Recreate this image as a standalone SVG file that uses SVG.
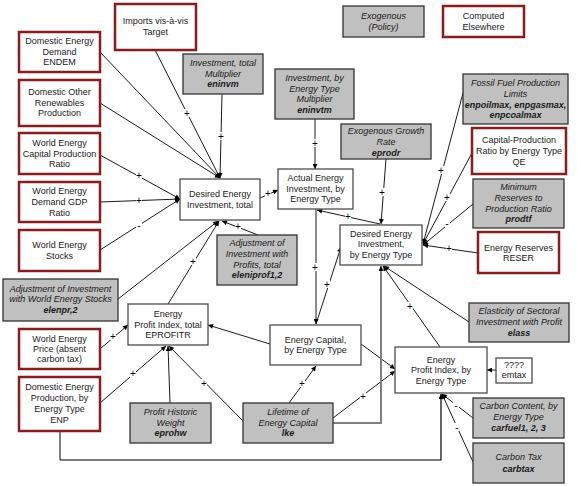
<svg xmlns="http://www.w3.org/2000/svg" width="577" height="486" viewBox="0 0 577 486">
<style>
text{font-family:"Liberation Sans",Arial,sans-serif;font-size:9px;fill:#1a1a1a;text-anchor:middle}
.red{fill:#fff;stroke:#8e1b1b;stroke-width:2.5}
.wht{fill:#fff;stroke:#4d4d4d;stroke-width:1.3}
.gry{fill:#c0c0c0;stroke:#333;stroke-width:1.3}
.i{font-style:italic}
.b{font-style:italic;font-weight:bold}
.ln{fill:none;stroke:#000;stroke-width:0.9}
.ar{marker-end:url(#ah)}
.gl{fill:none;stroke:#808080;stroke-width:2}
.lb{font-size:10px;fill:#000}
.lbg{fill:#fff}
#link-labels{opacity:0.99}
</style>
<defs>
<marker id="ah" viewBox="0 0 10 10" refX="10" refY="5" markerWidth="6" markerHeight="5" markerUnits="userSpaceOnUse" orient="auto"><path d="M0,0 L10,5 L0,10 z" fill="#000"/></marker>
</defs>
<rect width="577" height="486" fill="#fff"/>

<g id="connectors">
<line class="ln ar" x1="155" y1="50" x2="220" y2="178"/>
<line class="ln ar" x1="100" y1="52" x2="220" y2="178"/>
<line class="ln ar" x1="100" y1="103" x2="220" y2="178"/>
<line class="ln ar" x1="222" y1="94" x2="220" y2="178"/>
<line class="ln ar" x1="100" y1="155" x2="180" y2="199"/>
<line class="ln ar" x1="100" y1="202" x2="180" y2="199"/>
<line class="ln ar" x1="100" y1="250" x2="180" y2="199"/>
<line class="ln ar" x1="118" y1="299" x2="218" y2="221"/>
<line class="ln ar" x1="168" y1="304" x2="219" y2="221"/>
<line class="ln ar" x1="258" y1="235" x2="222" y2="221"/>
<line class="ln ar" x1="260" y1="198" x2="278" y2="190"/>
<line class="ln ar" x1="315" y1="119" x2="315" y2="169"/>
<line class="ln ar" x1="386" y1="159" x2="381" y2="224"/>
<line class="ln ar" x1="380" y1="224" x2="317" y2="210"/>
<line class="ln ar" x1="316" y1="209" x2="316" y2="324"/>
<line class="ln ar" x1="316" y1="324" x2="341" y2="247"/>
<line class="ln ar" x1="463" y1="93" x2="423" y2="244"/>
<line class="ln ar" x1="472" y1="153" x2="423" y2="244"/>
<line class="ln ar" x1="473" y1="204" x2="423" y2="245"/>
<line class="ln ar" x1="478" y1="253" x2="423" y2="245"/>
<line class="ln ar" x1="440" y1="347" x2="383" y2="266"/>
<line class="ln ar" x1="469" y1="322" x2="384" y2="266"/>
<line class="ln ar" x1="496" y1="370" x2="487" y2="370"/>
<line class="ln ar" x1="473" y1="418" x2="442" y2="394"/>
<line class="ln ar" x1="473" y1="462" x2="442" y2="394"/>
<line class="ln ar" x1="361" y1="344" x2="395" y2="369"/>
<line class="ln ar" x1="333" y1="418" x2="395" y2="371"/>
<line class="ln ar" x1="289" y1="403" x2="316" y2="366"/>
<line class="ln ar" x1="243" y1="421" x2="169" y2="346"/>
<line class="ln ar" x1="270" y1="344" x2="208" y2="325"/>
<line class="ln ar" x1="170" y1="403" x2="168" y2="346"/>
<line class="ln ar" x1="100" y1="403" x2="166" y2="346"/>
<line class="ln ar" x1="100" y1="349" x2="128" y2="325"/>
<polyline class="gl" points="60,431 60,460"/>
<polyline class="ln ar" style="stroke-width:1.2" points="60,460 441,460 441,394"/>
<polyline class="gl" points="333,423 381,423 381,272"/>
<line class="ln ar" x1="381" y1="272" x2="381" y2="266"/>
<g id="link-labels">
<rect class="lbg" x="184" y="109" width="6" height="8"/><text class="lb" x="187" y="116.5">+</text>
<rect class="lbg" x="218" y="132" width="6" height="8"/><text class="lb" x="221" y="139.5">+</text>
<rect class="lbg" x="136" y="171" width="6" height="8"/><text class="lb" x="139" y="178.5">+</text>
<rect class="lbg" x="136" y="196" width="6" height="8"/><text class="lb" x="139" y="203.5">+</text>
<rect class="lbg" x="136" y="221" width="6" height="8"/><text class="lb" x="139" y="228.5">-</text>
<rect class="lbg" x="190" y="257" width="6" height="8"/><text class="lb" x="193" y="264.5">+</text>
<rect class="lbg" x="235" y="222" width="6" height="8"/><text class="lb" x="238" y="229.5">+</text>
<rect class="lbg" x="265" y="189" width="6" height="8"/><text class="lb" x="268" y="196.5">+</text>
<rect class="lbg" x="312" y="139" width="6" height="8"/><text class="lb" x="315" y="146.5">+</text>
<rect class="lbg" x="379" y="188" width="6" height="8"/><text class="lb" x="382" y="195.5">+</text>
<rect class="lbg" x="345" y="212" width="6" height="8"/><text class="lb" x="348" y="219.5">+</text>
<rect class="lbg" x="312" y="263" width="6" height="8"/><text class="lb" x="315" y="270.5">+</text>
<rect class="lbg" x="324" y="280" width="6" height="8"/><text class="lb" x="327" y="287.5">+</text>
<rect class="lbg" x="438" y="166" width="6" height="8"/><text class="lb" x="441" y="173.5">+</text>
<rect class="lbg" x="444" y="193" width="6" height="8"/><text class="lb" x="447" y="200.5">+</text>
<rect class="lbg" x="444" y="219" width="6" height="8"/><text class="lb" x="447" y="226.5">-</text>
<rect class="lbg" x="446" y="244" width="6" height="8"/><text class="lb" x="449" y="251.5">+</text>
<rect class="lbg" x="407" y="302" width="6" height="8"/><text class="lb" x="410" y="309.5">+</text>
<rect class="lbg" x="453" y="401" width="6" height="8"/><text class="lb" x="456" y="408.5">-</text>
<rect class="lbg" x="454" y="423" width="6" height="8"/><text class="lb" x="457" y="430.5">-</text>
<rect class="lbg" x="360" y="392" width="6" height="8"/><text class="lb" x="363" y="399.5">+</text>
<rect class="lbg" x="299" y="379" width="6" height="8"/><text class="lb" x="302" y="386.5">+</text>
<rect class="lbg" x="201" y="379" width="6" height="8"/><text class="lb" x="204" y="386.5">+</text>
<rect class="lbg" x="130" y="369" width="6" height="8"/><text class="lb" x="133" y="376.5">+</text>
<rect class="lbg" x="110" y="332" width="6" height="8"/><text class="lb" x="113" y="339.5">+</text>
</g>
</g>

<g id="imports"><rect class="red" x="115" y="4" width="81" height="46"/><text><tspan x="155.5" y="24">Imports vis-à-vis</tspan><tspan x="155.5" y="35">Target</tspan></text></g>
<g id="endem"><rect class="red" x="19" y="32" width="81" height="40"/><text><tspan x="59.5" y="44">Domestic Energy</tspan><tspan x="59.5" y="54.5">Demand</tspan><tspan x="59.5" y="65">ENDEM</tspan></text></g>
<g id="renew"><rect class="red" x="19" y="80" width="81" height="46"/><text><tspan x="59.5" y="95">Domestic Other</tspan><tspan x="59.5" y="105.5">Renewables</tspan><tspan x="59.5" y="116">Production</tspan></text></g>
<g id="wecpr"><rect class="red" x="19" y="133" width="81" height="41"/><text><tspan x="59.5" y="146">World Energy</tspan><tspan x="59.5" y="156.5">Capital Production</tspan><tspan x="59.5" y="167">Ratio</tspan></text></g>
<g id="wedgdp"><rect class="red" x="19" y="182" width="81" height="40"/><text><tspan x="59.5" y="194">World Energy</tspan><tspan x="59.5" y="205">Demand GDP</tspan><tspan x="59.5" y="215.5">Ratio</tspan></text></g>
<g id="wes"><rect class="red" x="19" y="230" width="81" height="41"/><text><tspan x="59.5" y="248">World Energy</tspan><tspan x="59.5" y="259">Stocks</tspan></text></g>
<g id="elenpr"><rect class="gry" x="3" y="279" width="115" height="42"/><text><tspan class="i" x="60.5" y="291.5">Adjustment of Investment</tspan><tspan class="i" x="60.5" y="302">with World Energy Stocks</tspan><tspan class="b" x="60.5" y="312.5">elenpr,2</tspan></text></g>
<g id="wep"><rect class="red" x="19" y="329" width="81" height="40"/><text><tspan x="59.5" y="341.5">World Energy</tspan><tspan x="59.5" y="352">Price (absent</tspan><tspan x="59.5" y="362">carbon tax)</tspan></text></g>
<g id="enp"><rect class="red" x="19" y="377" width="81" height="54"/><text><tspan x="59.5" y="390">Domestic Energy</tspan><tspan x="59.5" y="401">Production, by</tspan><tspan x="59.5" y="411.5">Energy Type</tspan><tspan x="59.5" y="422.5">ENP</tspan></text></g>
<g id="eprofitr"><rect class="wht" x="128" y="304" width="80" height="41"/><text><tspan x="168" y="317">Energy</tspan><tspan x="168" y="327.5">Profit Index, total</tspan><tspan x="168" y="338">EPROFITR</tspan></text></g>
<g id="eprohw"><rect class="gry" x="130" y="403" width="81" height="40"/><text><tspan class="i" x="170.5" y="415">Profit Historic</tspan><tspan class="i" x="170.5" y="425.5">Weight</tspan><tspan class="b" x="170.5" y="436">eprohw</tspan></text></g>
<g id="lke"><rect class="gry" x="243" y="403" width="90" height="40"/><text><tspan class="i" x="288" y="415">Lifetime of</tspan><tspan class="i" x="288" y="425.5">Energy Capital</tspan><tspan class="b" x="288" y="436">lke</tspan></text></g>
<g id="ecap"><rect class="wht" x="270" y="325" width="91" height="40"/><text><tspan x="315.5" y="342.5">Energy Capital,</tspan><tspan x="315.5" y="353">by Energy Type</tspan></text></g>
<g id="epit"><rect class="wht" x="395" y="347" width="92" height="46"/><text><tspan x="441" y="362.5">Energy</tspan><tspan x="441" y="373">Profit Index, by</tspan><tspan x="441" y="383.5">Energy Type</tspan></text></g>
<g id="emtax"><rect class="wht" x="496" y="358" width="36" height="25"/><text><tspan x="514" y="367.5">????</tspan><tspan x="514" y="378">emtax</tspan></text></g>
<g id="elass"><rect class="gry" x="469" y="303" width="100" height="39"/><text><tspan class="i" x="519" y="314">Elasticity of Sectoral</tspan><tspan class="i" x="519" y="325">Investment with Profit</tspan><tspan class="b" x="519" y="336">elass</tspan></text></g>
<g id="carfuel"><rect class="gry" x="473" y="398" width="91" height="40"/><text><tspan class="i" x="518.5" y="409">Carbon Content, by</tspan><tspan class="i" x="518.5" y="420">Energy Type</tspan><tspan class="b" x="518.5" y="430.5">carfuel1, 2, 3</tspan></text></g>
<g id="carbtax"><rect class="gry" x="473" y="443" width="91" height="40"/><text><tspan class="i" x="518.5" y="460">Carbon Tax</tspan><tspan class="b" x="518.5" y="471.5">carbtax</tspan></text></g>
<g id="deit"><rect class="wht" x="180" y="179" width="80" height="41"/><text><tspan x="220" y="196.5">Desired Energy</tspan><tspan x="220" y="207.5">Investment, total</tspan></text></g>
<g id="eleniprof"><rect class="gry" x="217" y="235" width="80" height="50"/><text><tspan class="i" x="257" y="246">Adjustment of</tspan><tspan class="i" x="257" y="256.5">Investment with</tspan><tspan class="i" x="257" y="267.5">Profits, total</tspan><tspan class="b" x="257" y="278">eleniprof1,2</tspan></text></g>
<g id="eninvm"><rect class="gry" x="183" y="54" width="80" height="40"/><text><tspan class="i" x="223" y="66">Investment, total</tspan><tspan class="i" x="223" y="76.5">Multiplier</tspan><tspan class="b" x="223" y="87">eninvm</tspan></text></g>
<g id="eninvtm"><rect class="gry" x="275" y="69" width="79" height="50"/><text><tspan class="i" x="314.5" y="81">Investment, by</tspan><tspan class="i" x="314.5" y="91.5">Energy Type</tspan><tspan class="i" x="314.5" y="102">Multiplier</tspan><tspan class="b" x="314.5" y="113">eninvtm</tspan></text></g>
<g id="aeit"><rect class="wht" x="278" y="169" width="75" height="40"/><text><tspan x="315.5" y="181">Actual Energy</tspan><tspan x="315.5" y="191.5">Investment, by</tspan><tspan x="315.5" y="202">Energy Type</tspan></text></g>
<g id="eprodr"><rect class="gry" x="341" y="124" width="90" height="35"/><text><tspan class="i" x="386" y="134">Exogenous Growth</tspan><tspan class="i" x="386" y="144.5">Rate</tspan><tspan class="b" x="386" y="155.5">eprodr</tspan></text></g>
<g id="deibt"><rect class="wht" x="340" y="225" width="82" height="40"/><text><tspan x="381" y="236.5">Desired Energy</tspan><tspan x="381" y="247">Investment,</tspan><tspan x="381" y="258">by Energy Type</tspan></text></g>
<g id="fossil"><rect class="gry" x="463" y="74" width="105" height="50"/><text><tspan class="i" x="515.5" y="85.5">Fossil Fuel Production</tspan><tspan class="i" x="515.5" y="96.5">Limits</tspan><tspan class="b" x="515.5" y="107.5">enpoilmax, enpgasmax,</tspan><tspan class="b" x="515.5" y="118">enpcoalmax</tspan></text></g>
<g id="qe"><rect class="red" x="472" y="128" width="94" height="46"/><text><tspan x="519" y="143">Capital-Production</tspan><tspan x="519" y="154">Ratio by Energy Type</tspan><tspan x="519" y="165">QE</tspan></text></g>
<g id="prodtf"><rect class="gry" x="473" y="179" width="91" height="49"/><text><tspan class="i" x="518.5" y="190">Minimum</tspan><tspan class="i" x="518.5" y="200.5">Reserves to</tspan><tspan class="i" x="518.5" y="211.5">Production Ratio</tspan><tspan class="b" x="518.5" y="222">prodtf</tspan></text></g>
<g id="reser"><rect class="red" x="478" y="232" width="81" height="41"/><text><tspan x="518.5" y="250.5">Energy Reserves</tspan><tspan x="518.5" y="261">RESER</tspan></text></g>
<g id="legend-exogenous"><rect class="gry" x="343" y="6" width="81" height="31"/><text><tspan class="i" x="383.5" y="19">Exogenous</tspan><tspan class="i" x="383.5" y="30">(Policy)</tspan></text></g>
<g id="legend-computed"><rect class="red" x="443" y="6" width="81" height="31"/><text><tspan x="483.5" y="19">Computed</tspan><tspan x="483.5" y="30">Elsewhere</tspan></text></g>
</svg>
